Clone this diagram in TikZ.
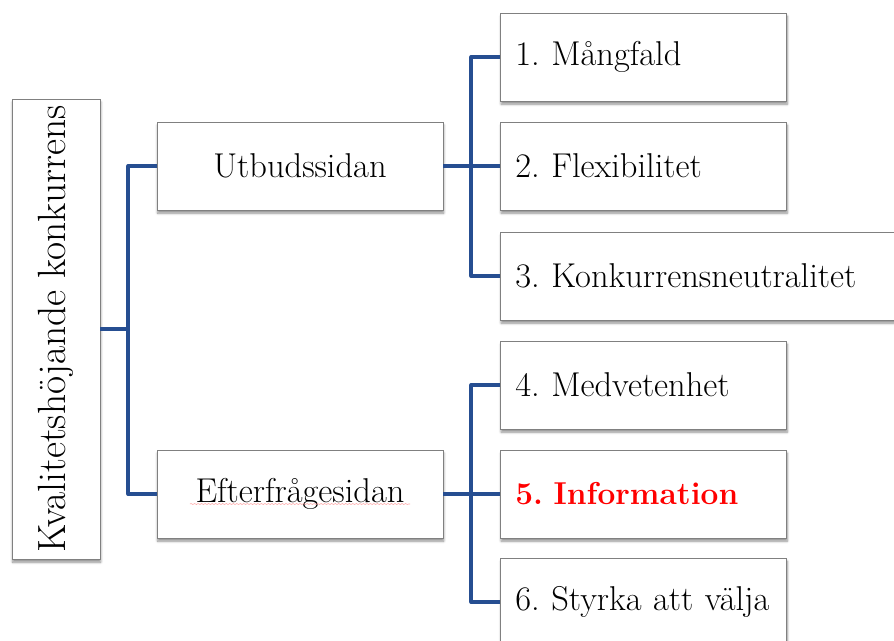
\documentclass[tikz,border=0pt]{standalone}
\usetikzlibrary{shadows.blur,decorations.pathmorphing}
\definecolor{linkblue}{RGB}{38,78,145}
\definecolor{boxgray}{RGB}{128,128,128}
\definecolor{infored}{RGB}{255,0,0}
\frenchspacing
\tikzset{
  box/.style={draw=boxgray, line width=0.6pt, fill=white, inner sep=0pt,
    blur shadow={shadow blur steps=6, shadow xshift=0.5pt, shadow yshift=-2.2pt, shadow opacity=45},
    font=\fontsize{24.5}{29}\selectfont},
  midbox/.style={box, minimum width=7.15cm, minimum height=2.2cm},
  leafbox/.style={box, anchor=west, minimum height=2.2cm, text width=6.4cm, inner xsep=0.375cm, align=left},
  link/.style={draw=linkblue, line width=2.8pt, line join=round}
}
\begin{document}
\begin{tikzpicture}[x=0.025cm, y=-0.025cm]
        \useasboundingbox (0,0) rectangle (894,640);
        \clip (0,0) rectangle (894,640);

        % Root
        \node[box, minimum width=2.2cm, minimum height=11.5cm, font=\fontsize{28}{32}\selectfont] (root) at (56,329) {\rotatebox{90}{Kvalitetshöjande konkurrens}};

        % Two sides
        \node[midbox] (utbud) at (300,166) {Utbudssidan};
        \node[midbox] (efter) at (300,494) {Efterfrågesidan};
        \draw[red!35, line width=0.4pt, decorate, decoration={snake, amplitude=0.35pt, segment length=2.5pt}]
            (efter.center) ++(-110,10) -- ++(220,0);

        % Leaves
        \node[leafbox] (mang) at (500,57) {1. Mångfald};
        \node[leafbox] (flex) at (500,166) {2. Flexibilitet};
        \node[leafbox, text width=10.6cm] (neutral) at (500,276) {3. Konkurrensneutralitet};
        \node[leafbox] (medv) at (500,385) {4. Medvetenhet};
        \node[leafbox, text=infored, font=\fontsize{22.5}{27}\selectfont\bfseries] (info) at (500,494) {5. Information};
        \node[leafbox] (styrka) at (500,602) {6. Styrka att välja};

        % Connectors
        \draw[link] (root.east) -- ++(28,0) coordinate (rj);
        \draw[link] (utbud.west) -| (rj);
        \draw[link] (efter.west) -| (rj);

        \draw[link] (utbud.east) -- ++(28,0) coordinate (uj);
        \draw[link] (mang.west) -| (uj);
        \draw[link] (neutral.west) -| (uj);
        \draw[link] (flex.west) -- (uj);

        \draw[link] (efter.east) -- ++(28,0) coordinate (ej);
        \draw[link] (medv.west) -| (ej);
        \draw[link] (styrka.west) -| (ej);
        \draw[link] (info.west) -- (ej);
\end{tikzpicture}
\end{document}
